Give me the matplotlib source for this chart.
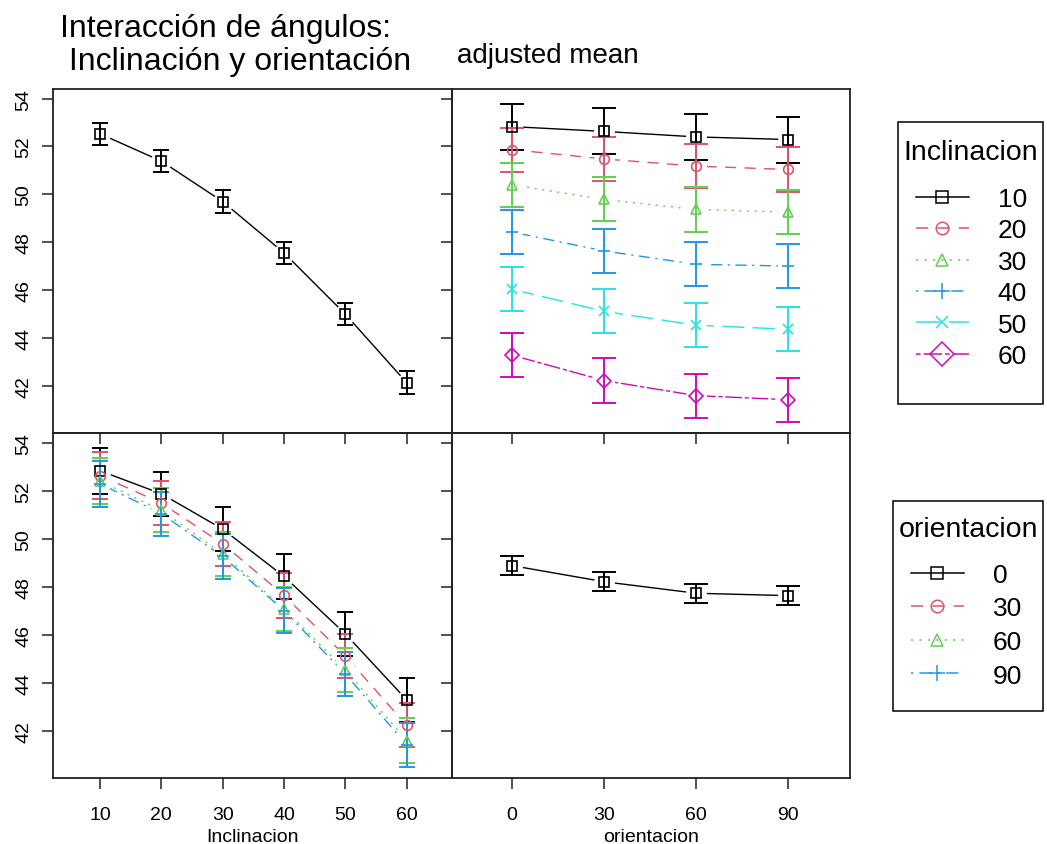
import matplotlib
matplotlib.use("Agg")
import matplotlib.pyplot as plt
from matplotlib.lines import Line2D
from matplotlib.patches import Rectangle

plt.rcParams['font.family'] = ['Liberation Sans', 'DejaVu Sans']

# factor levels
inclinacion = [10, 20, 30, 40, 50, 60]
orientacion = [0, 30, 60, 90]

# adjusted means for each inclinacion level across orientacion
mean_i10 = [52.83, 52.63, 52.40, 52.29]
mean_i20 = [51.87, 51.48, 51.18, 51.04]
mean_i30 = [50.40, 49.79, 49.37, 49.26]
mean_i40 = [48.43, 47.64, 47.08, 47.01]
mean_i50 = [46.04, 45.12, 44.54, 44.37]
mean_i60 = [43.29, 42.23, 41.60, 41.43]
cell_means = [mean_i10, mean_i20, mean_i30, mean_i40, mean_i50, mean_i60]
cell_ci = [0.96, 0.92, 0.92, 0.92, 0.92, 0.92]

# main effects
main_inclinacion = [52.53, 51.39, 49.70, 47.56, 45.00, 42.14]
main_inclinacion_ci = 0.47
main_orientacion = [48.88, 48.21, 47.73, 47.63]
main_orientacion_ci = 0.39

colors = ['black', '#DF536B', '#61D04F', '#2297E6', '#28E2E5', '#CD0BBC']
styles = ['-', (0, (8, 6)), (0, (1.5, 4)), (0, (1.5, 4, 8, 4)), (0, (16, 6)), (0, (3, 2, 12, 2))]
markers = ['s', 'o', '^', '+', 'x', 'D']

fig = plt.figure(figsize=(10.47, 8.45), dpi=100)
W, H = 1047, 845
x0, xm, x1 = 53 / W, 452 / W, 850 / W
y1, ym, y0 = 1 - 90 / H, 1 - 434 / H, 1 - 779 / H

ax_tl = fig.add_axes([x0, ym, xm - x0, y1 - ym])
ax_tr = fig.add_axes([xm, ym, x1 - xm, y1 - ym])
ax_bl = fig.add_axes([x0, y0, xm - x0, ym - y0])
ax_br = fig.add_axes([xm, y0, x1 - xm, ym - y0])

ylim = (40.04, 54.4)
yt = [42, 44, 46, 48, 50, 52, 54]


def series(ax, x, y, ci, k, cap):
    c = colors[k]
    ax.plot(x, y, color=c, ls=styles[k], lw=1.0, zorder=2)
    # white halo keeps the line off the symbol
    ax.plot(x, y, ls='none', marker='o', ms=15, mfc='white', mec='none', zorder=3)
    ax.errorbar(x, y, yerr=ci, fmt='none', ecolor=c, elinewidth=1.4,
                capsize=cap, capthick=1.4, zorder=4)
    ax.plot(x, y, ls='none', marker=markers[k], ms=7 if markers[k] != '+' else 9,
            mfc='none', mec=c, mew=1.2, zorder=5)


series(ax_tl, inclinacion, main_inclinacion, main_inclinacion_ci, 0, 6)
for k, m in enumerate(cell_means):
    series(ax_tr, orientacion, m, cell_ci[k], k, 8.5)
for j in range(len(orientacion)):
    col = [row[j] for row in cell_means]
    series(ax_bl, inclinacion, col, cell_ci, j, 6)
series(ax_br, orientacion, main_orientacion, main_orientacion_ci, 0, 8.5)

for ax in (ax_tl, ax_tr, ax_bl, ax_br):
    ax.set_facecolor('none')
    ax.set_ylim(*ylim)
    ax.set_yticks(yt)
    for s in ax.spines.values():
        s.set_linewidth(1.3)
        s.set_color('#222222')
    ax.tick_params(direction='out', length=8, width=1.1, color='#222222',
                   labelsize=14)
    ax.tick_params(axis='x', pad=12)

for ax in (ax_tl, ax_bl):
    ax.set_xlim(2.34, 67.39)
    ax.set_xticks(inclinacion)
for ax in (ax_tr, ax_br):
    ax.set_xlim(-19.54, 110.1)
    ax.set_xticks(orientacion)
    ax.tick_params(axis='y', labelleft=False)
for ax in (ax_tl, ax_tr):
    ax.tick_params(axis='x', labelbottom=False)
for ax in (ax_tl, ax_bl):
    ax.tick_params(axis='y', labelrotation=90, pad=7)
    for lab in ax.get_yticklabels():
        lab.set_va('center')

ax_bl.set_xlabel('Inclinacion', fontsize=14, labelpad=3.5)
ax_br.set_xlabel('orientacion', fontsize=14, labelpad=3.5)

fig.text(60 / W, 1 - 14 / H, 'Interacción de ángulos:\n Inclinación y orientación',
         fontsize=23, va='top', ha='left', linespacing=1.12)
fig.text(457 / W, 1 - 63 / H, 'adjusted mean', fontsize=20, va='baseline', ha='left')


def legend_handles(n):
    return [Line2D([], [], color=colors[k], ls=styles[k], lw=1.1, marker=markers[k],
                   ms=9 if markers[k] not in '+D' else 12, mfc='none', mew=1.1)
            for k in range(n)]


def key(n, labels, title, box, title_y, first_y, spacing):
    bx0, by0, bx1, by1 = box
    fig.add_artist(Rectangle((bx0 / W, 1 - by1 / H), (bx1 - bx0) / W, (by1 - by0) / H,
                             transform=fig.transFigure, fill=False, ec='black', lw=1.1))
    fig.text((bx0 + bx1) / 2 / W, 1 - title_y / H, title, fontsize=20.5,
             ha='center', va='center')
    leg = fig.legend(legend_handles(n), labels, loc='upper left', frameon=False,
                     fontsize=19, handlelength=2.0, handletextpad=1.1, borderpad=0,
                     borderaxespad=0, labelspacing=spacing,
                     bbox_to_anchor=((bx0 + 18) / W, 1 - (first_y - 13) / H))
    return leg


key(6, [str(v) for v in inclinacion], 'Inclinacion', (898, 123, 1043, 405), 153, 201, 0.28)
key(4, [str(v) for v in orientacion], 'orientacion', (893, 502, 1043, 712), 530, 577, 0.36)

fig.savefig('out.png', dpi=100)
